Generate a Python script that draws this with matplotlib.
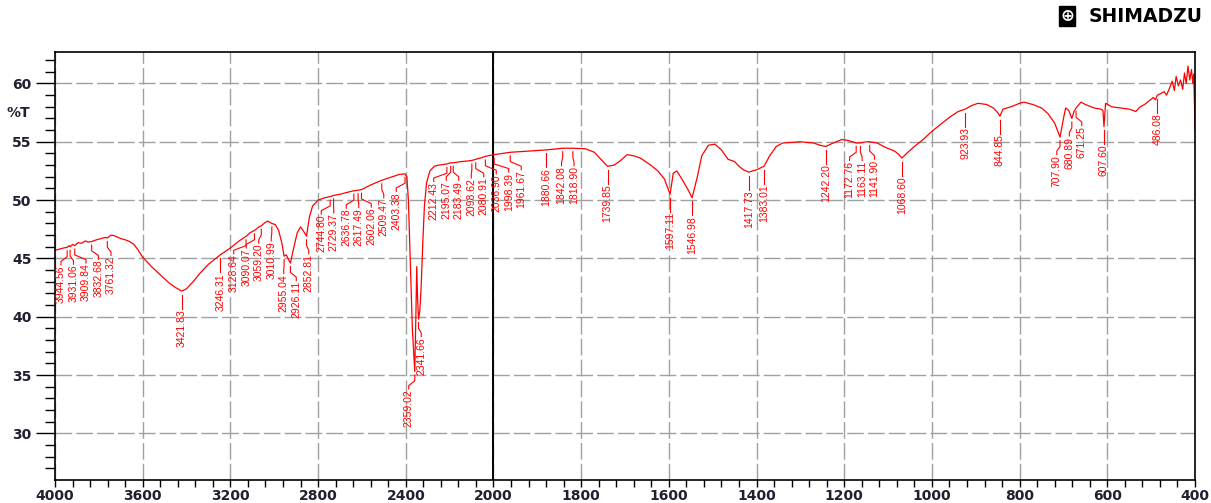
import numpy as np
import matplotlib
matplotlib.use('Agg')
import matplotlib.pyplot as plt

# spectrum (wavenumber cm-1, %T)
wavenum = [4000, 3980, 3960, 3944.56, 3935, 3931.06, 3920, 3909.84, 3895, 3880, 3860, 3850,
           3832.68, 3810, 3790, 3770, 3761.32, 3745, 3730, 3700, 3680, 3660, 3640, 3620, 3600,
           3560, 3520, 3480, 3450, 3421.83, 3400, 3370, 3340, 3300, 3246.31, 3200, 3160,
           3128.64, 3110, 3090.07, 3070, 3059.20, 3040, 3030, 3010.99, 2995, 2980, 2965,
           2955.04, 2945, 2935, 2926.11, 2910, 2895, 2880, 2865, 2852.81, 2840, 2825, 2800,
           2770, 2744.80, 2729.37, 2700, 2660, 2636.78, 2617.49, 2602.06, 2560, 2509.47, 2470,
           2430, 2403.38, 2395, 2388, 2380, 2370, 2359.02, 2354, 2350, 2346, 2341.66, 2336,
           2330, 2322, 2315, 2305, 2290, 2270, 2250, 2212.43, 2195.07, 2183.49, 2150, 2120,
           2098.62, 2080.91, 2060, 2036.90, 2000, 1998.39, 1961.67, 1920, 1880.66, 1842.08,
           1818.90, 1790, 1770, 1755, 1739.85, 1725, 1710, 1695, 1680, 1665, 1645, 1625, 1610,
           1597.11, 1590, 1582, 1570, 1555, 1546.98, 1535, 1525, 1510, 1495, 1480, 1465, 1450,
           1440, 1430, 1417.73, 1400, 1383.01, 1370, 1355, 1340, 1300, 1270, 1255, 1242.20,
           1225, 1205, 1190, 1172.76, 1163.11, 1150, 1141.90, 1125, 1105, 1085, 1075, 1068.60,
           1055, 1040, 1020, 1000, 980, 960, 940, 923.93, 910, 895, 875, 860, 850, 844.85, 838,
           820, 800, 790, 770, 750, 735, 720, 707.90, 700, 695, 688, 680.89, 676, 671.25, 660,
           650, 630, 615, 610, 607.60, 604, 590, 570, 550, 535, 525, 515, 505, 495, 490, 486.08,
           480, 470, 465, 458, 452, 447, 443, 438, 433, 428, 424, 420, 416, 412, 408, 405, 403,
           401, 400]
trans = [45.7, 45.8, 45.9, 45.95, 46.1, 46.0, 46.2, 46.1, 46.35, 46.3, 46.5, 46.4,
         46.45, 46.6, 46.7, 46.8, 46.75, 47.0, 46.95, 46.7, 46.6, 46.45, 46.2, 45.7, 45.1,
         44.3, 43.6, 42.9, 42.5, 42.2, 42.4, 43.0, 43.7, 44.5, 45.3, 45.9, 46.5,
         46.9, 47.2, 47.4, 47.7, 47.8, 48.1, 48.2, 48.0, 47.9, 47.4, 46.3,
         45.2, 45.3, 44.9, 44.6, 46.0, 47.2, 47.7, 47.3, 46.9, 48.5, 49.5, 50.0,
         50.2, 50.3, 50.4, 50.5, 50.7, 50.8, 50.85, 50.9, 51.3, 51.7, 51.95,
         52.2, 52.25, 52.0, 50.0, 45.0, 39.0, 35.3, 40.0, 44.3, 41.5, 39.8, 40.5,
         42.5, 46.5, 49.5, 51.5, 52.5, 52.9, 53.0, 53.1, 53.2, 53.2, 53.3, 53.35,
         53.4, 53.5, 53.6, 53.75, 53.9, 53.9, 54.1, 54.2, 54.3, 54.45,
         54.45, 54.4, 54.1, 53.5, 52.9, 53.0, 53.4, 53.9, 53.8, 53.6, 53.1, 52.5, 51.8,
         50.5, 52.3, 52.5, 51.8, 50.8, 50.2, 52.0, 53.8, 54.7, 54.8, 54.3, 53.5, 53.3,
         52.9, 52.6, 52.4, 52.6, 52.9, 53.8, 54.6, 54.9, 55.0, 54.9, 54.7, 54.6,
         54.9, 55.2, 55.1, 54.9, 54.9, 55.0, 55.0, 54.9, 54.5, 54.2, 53.9, 53.6,
         54.1, 54.6, 55.2, 55.9, 56.5, 57.1, 57.6, 57.8, 58.1, 58.3, 58.2, 57.9, 57.5, 57.2, 57.8,
         58.0, 58.3, 58.4, 58.2, 57.9, 57.4, 56.6, 55.4, 57.0, 57.9, 57.7, 57.0, 57.6, 57.9, 58.4,
         58.2, 57.9, 57.8, 57.7, 56.3, 58.3, 58.0, 57.9, 57.8, 57.6, 58.0, 58.2, 58.5, 58.8, 58.6, 59.0,
         59.1, 59.3, 59.0, 59.6, 60.2, 59.4, 60.6, 59.8, 60.3, 59.5, 60.9, 60.0, 61.5, 60.3, 61.2, 60.0, 60.8,
         58.0, 56.0]

# labelled peaks
peaks = [3944.56, 3931.06, 3909.84, 3832.68, 3761.32, 3421.83, 3246.31, 3128.64, 3090.07,
         3059.20, 3010.99, 2955.04, 2926.11, 2852.81, 2744.80, 2729.37, 2636.78, 2617.49,
         2602.06, 2509.47, 2403.38, 2359.02, 2341.66, 2212.43, 2195.07, 2183.49, 2098.62,
         2080.91, 2036.90, 1998.39, 1961.67, 1880.66, 1842.08, 1818.90, 1739.85, 1597.11,
         1546.98, 1417.73, 1383.01, 1242.20, 1172.76, 1163.11, 1141.90, 1068.60, 923.93,
         844.85, 707.90, 680.89, 671.25, 607.60, 486.08]

x_major = [4000, 3600, 3200, 2800, 2400, 2000, 1800, 1600, 1400, 1200, 1000, 800, 600, 400]
y_major = [30, 35, 40, 45, 50, 55, 60]

TXT = '#202030'


# 4000-2000 is drawn at half the scale of 2000-400
def fwd(x):
    x = np.asarray(x, float)
    return np.where(x > 2000, 2000 + (x - 2000) / 2.0, x)


def inv(u):
    u = np.asarray(u, float)
    return np.where(u > 2000, 2000 + (u - 2000) * 2.0, u)


def spread(xs, gap, lo):
    # merge crowded labels into groups centred on their peaks
    groups = [[x] for x in xs]
    changed = True
    while changed:
        changed = False
        pos = []
        for g in groups:
            c = max(np.mean(g), lo + (len(g) - 1) / 2 * gap)
            pos.append([c + (k - (len(g) - 1) / 2) * gap for k in range(len(g))])
        for i in range(len(groups) - 1):
            if pos[i][-1] + gap > pos[i + 1][0]:
                groups[i] = groups[i] + groups[i + 1]
                del groups[i + 1]
                changed = True
                break
    out = []
    for p in pos:
        out += p
    return np.array(out)


fig = plt.figure(figsize=(12.11, 5.03), dpi=100)
ax = fig.add_axes([55 / 1211, 23 / 503, 1140 / 1211, 428 / 503])

ax.set_xscale('function', functions=(fwd, inv))
ax.set_xlim(4000, 400)
ax.set_ylim(26, 62.7)

ax.set_xticks(x_major)
ax.set_xticks([v for v in list(range(2080, 4000, 80)) + list(range(440, 2000, 40))
               if v not in x_major], minor=True)
ax.set_yticks(y_major)
ax.set_yticks([v for v in range(27, 63) if v not in y_major], minor=True)

ax.grid(True, which='major', color='#a0a0a0', lw=1.0, ls=(0, (12, 3)))
ax.set_axisbelow(True)
ax.axvline(2000, color='black', lw=1.4)

ax.tick_params(axis='y', which='major', length=14, width=1, pad=3)
ax.tick_params(axis='y', which='minor', length=7, width=1)
ax.tick_params(axis='x', which='both', length=5, width=1, pad=1.5)
for lab in ax.get_xticklabels() + ax.get_yticklabels():
    lab.set_fontsize(10)
    lab.set_fontweight('bold')
    lab.set_color(TXT)
for s in ax.spines.values():
    s.set_linewidth(1.2)

ax.plot(wavenum, trans, color='red', lw=0.9)

# peak markers
tp = np.interp(peaks, wavenum[::-1], trans[::-1])
disp_x = ax.transData.transform(np.c_[peaks, tp])[:, 0]
x0 = ax.transData.transform((4000, 40))[0]
lab_x = spread(disp_x, 12.5, x0 + 6)
lab_wn = ax.transData.inverted().transform(np.c_[lab_x, tp])[:, 0]
for p, t, lw_ in zip(peaks, tp, lab_wn):
    ax.plot([p, p, lw_, lw_], [t - 0.3, t - 0.8, t - 1.2, t - 1.5], color='red', lw=0.8)
    ax.text(lw_, t - 1.55, f'{p:.2f}', rotation=90, ha='center', va='top',
            fontsize=7.5, color='red', family='Liberation Sans')

ax.text(-0.022, 57.5, '%T', transform=ax.get_yaxis_transform(), ha='right', va='center',
        fontsize=10, fontweight='bold', color=TXT)

# logo
fig.text(1067 / 1211, 1 - 16 / 503, '\u2295', color='white', fontsize=12, fontweight='bold',
         ha='center', va='center', bbox=dict(boxstyle='square,pad=0.05', fc='black', ec='black'))
fig.text(1203 / 1211, 1 - 16 / 503, 'SHIMADZU', color='black', fontsize=13.5,
         fontweight='heavy', ha='right', va='center')

fig.savefig('out.png', dpi=100)
